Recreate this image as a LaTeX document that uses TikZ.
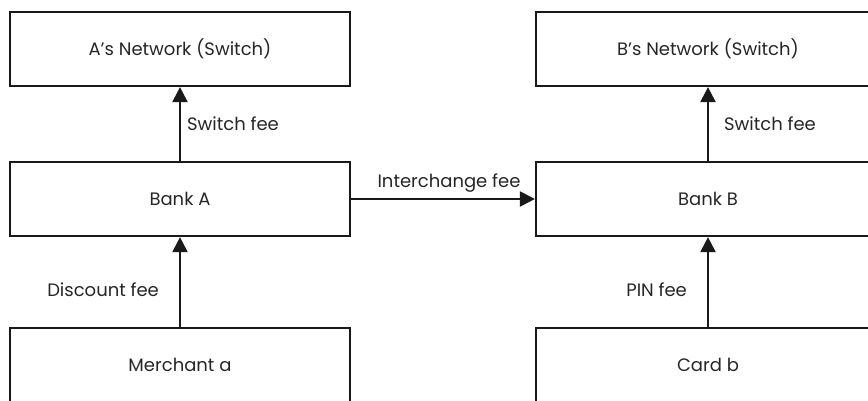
\documentclass[tikz,border=0pt]{standalone}
\usepackage{fontspec}
\setmainfont{Poppins}
\usetikzlibrary{arrows.meta}
\begin{document}
\begin{tikzpicture}[x=1pt,y=-1pt,
  box/.style={draw=black!90, line width=2.2pt, minimum width=340pt, minimum height=74pt, inner sep=0pt, font=\fontsize{18}{21}\selectfont, text=black!85},
  feearrow/.style={draw=black!90, line width=2.2pt, -{Triangle[width=15pt,length=15pt]}},
  lbl/.style={font=\fontsize{18}{21}\selectfont, inner sep=0pt, text=black!85}]
\useasboundingbox (0,0) rectangle (868,400);
\begin{scope}
\clip (0,0) rectangle (868,400);
\node[box] (anet) at (180,49) {A’s Network (Switch)};
\node[box] (banka) at (180,199) {Bank A};
\node[box] (merch) at (180,365) {Merchant a};
\node[box, minimum width=344pt] (bnet) at (708,49) {B’s Network (Switch)};
\node[box, minimum width=344pt] (bankb) at (708,199) {Bank B};
\node[box, minimum width=344pt] (card) at (708,365) {Card b};
\draw[feearrow] (banka) -- node[lbl, right=6pt] {Switch fee} (anet);
\draw[feearrow] (bankb) -- node[lbl, right=15pt] {Switch fee} (bnet);
\draw[feearrow] (merch) -- node[lbl, left=20pt, yshift=-8pt] {Discount fee} (banka);
\draw[feearrow] (card) -- node[lbl, left=20pt, yshift=-8pt] {PIN fee} (bankb);
\draw[feearrow] (banka) -- node[lbl, above=6pt, xshift=6pt] {Interchange fee} (bankb);
\end{scope}
\end{tikzpicture}
\end{document}
